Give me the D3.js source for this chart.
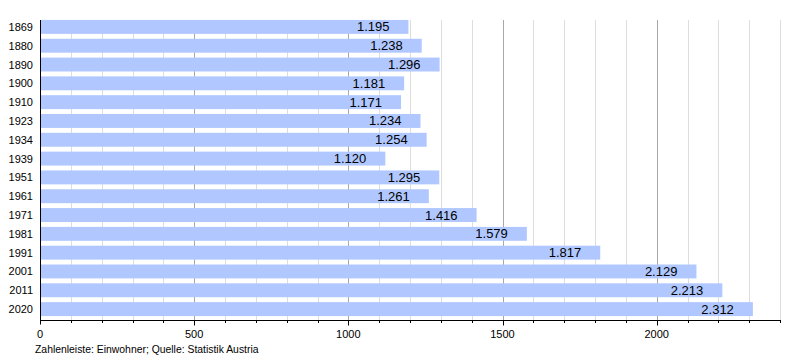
<!DOCTYPE html>
<html><head><meta charset="utf-8">
<script src="https://cdn.jsdelivr.net/npm/d3@7"></script>
<style>body{margin:0;background:#fff}svg{font-family:"Liberation Sans",Arial,sans-serif}</style>
</head><body><svg id="c" width="800" height="360"></svg>
<script>
const years = ["1869","1880","1890","1900","1910","1923","1934","1939","1951","1961","1971","1981","1991","2001","2011","2020"];
const population = [1195,1238,1296,1181,1171,1234,1254,1120,1295,1261,1416,1579,1817,2129,2213,2312];
const xTicks = [0,500,1000,1500,2000];
const footnote = "Zahlenleiste: Einwohner; Quelle: Statistik Austria";

(function(){
const svg = d3.select("#c");
const x = d3.scaleLinear().domain([0,2400]).range([40,780]);
const y = d3.scaleBand().domain(years).range([17.5,318.5]).paddingInner(0.26).paddingOuter(0.13);
const plotTop = 20, plotBottom = 320.5;

const minor = d3.range(100,2401,100);
svg.append("g").selectAll("line").data(minor).join("line")
  .attr("x1",d=>Math.round(x(d))+0.5).attr("x2",d=>Math.round(x(d))+0.5)
  .attr("y1",plotTop).attr("y2",plotBottom)
  .attr("stroke",d=>d%500===0?"#a8a8a8":"#dddddd").attr("stroke-width",1);

const fmt = v => d3.format(",")(v).replace(/,/g,".");
svg.append("g").selectAll("rect").data(years).join("rect")
  .attr("x",x(0)+1).attr("y",d=>y(d)).attr("height",y.bandwidth())
  .attr("width",(d,i)=>x(population[i])-x(0)-1)
  .attr("fill","#b0c8ff");
svg.append("g").selectAll("text").data(years).join("text")
  .attr("x",(d,i)=>x(population[i])-19).attr("y",d=>y(d)+y.bandwidth()/2+4.5)
  .attr("text-anchor","end").attr("font-size",13).attr("fill","#000")
  .text((d,i)=>fmt(population[i]));

svg.append("g").selectAll("text").data(years).join("text")
  .attr("x",33).attr("y",d=>y(d)+y.bandwidth()/2+4)
  .attr("text-anchor","end").attr("font-size",11).attr("fill","#000").text(d=>d);

svg.append("line").attr("x1",40.5).attr("x2",40.5).attr("y1",plotTop).attr("y2",plotBottom+4).attr("stroke","#000");
svg.append("line").attr("x1",40).attr("x2",781).attr("y1",plotBottom).attr("y2",plotBottom).attr("stroke","#000");
svg.append("g").selectAll("line").data(minor).join("line")
  .attr("x1",d=>Math.round(x(d))+0.5).attr("x2",d=>Math.round(x(d))+0.5)
  .attr("y1",plotBottom).attr("y2",d=>d%500===0?plotBottom+5:plotBottom+2.5).attr("stroke","#000");
svg.append("g").selectAll("text").data(xTicks).join("text")
  .attr("x",d=>x(d)).attr("y",338).attr("text-anchor","middle").attr("font-size",11).attr("fill","#000").text(d=>d);
svg.append("text").attr("x",35).attr("y",353).attr("font-size",10.4).attr("fill","#000").text(footnote);
})();
</script></body></html>
